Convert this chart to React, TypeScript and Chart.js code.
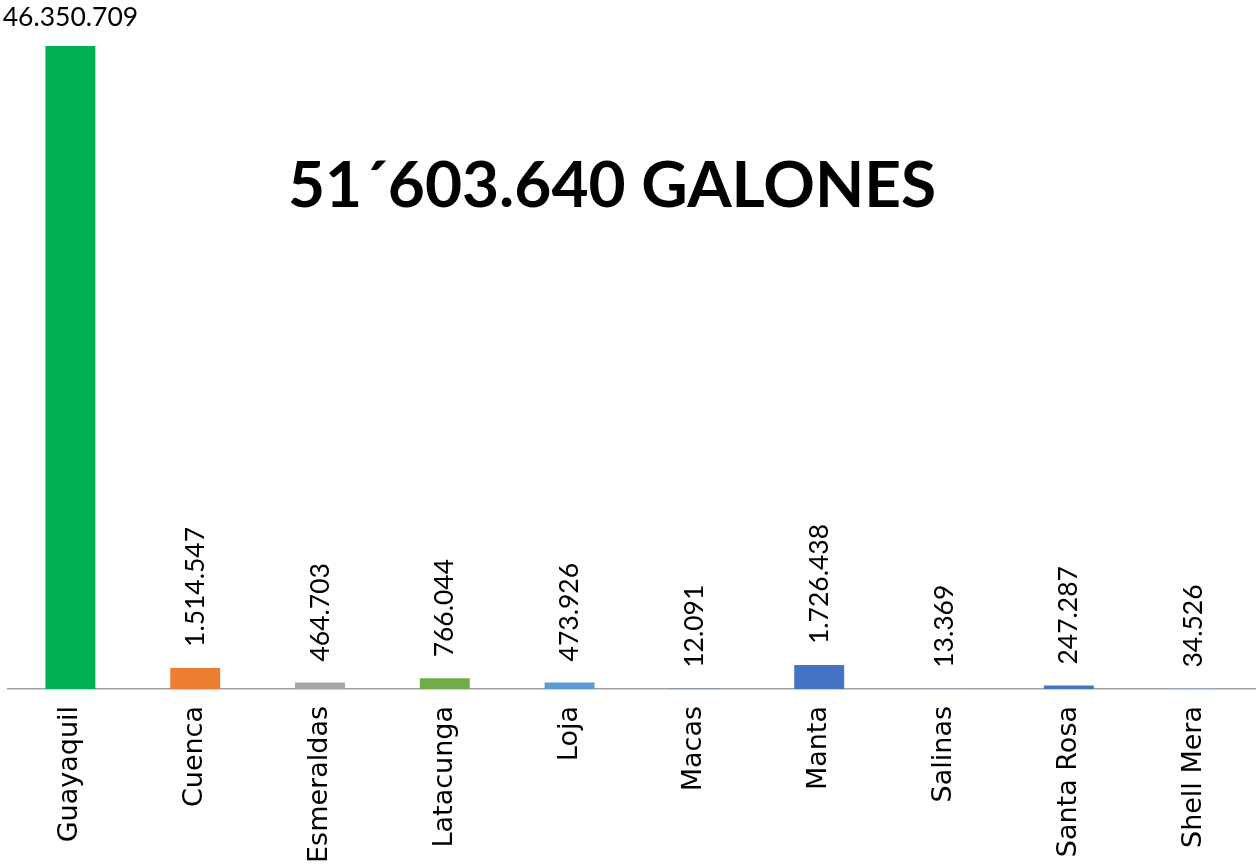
import React, { useEffect, useRef } from "react";
import { Chart, registerables } from "chart.js";

Chart.register(...registerables);

const categories = ["Guayaquil", "Cuenca", "Esmeraldas", "Latacunga", "Loja", "Macas", "Manta", "Salinas", "Santa Rosa", "Shell Mera"];
const values = [46350709, 1514547, 464703, 766044, 473926, 12091, 1726438, 13369, 247287, 34526];
const valueLabels = ["46.350.709", "1.514.547", "464.703", "766.044", "473.926", "12.091", "1.726.438", "13.369", "247.287", "34.526"];
const colors = ["#00B050", "#ED7D31", "#A5A5A5", "#70AD47", "#5B9BD5", "#4472C4", "#4472C4", "#8FAADC", "#4472C4", "#8FAADC"];
const totalText = "51´603.640 GALONES";

const FONT = "Lato, 'Open Sans', sans-serif";
const CAT_FONT = "'DejaVu Sans', sans-serif";

const labelPlugin = {
  id: "valueLabels",
  afterDatasetsDraw(chart: any) {
    const { ctx, chartArea } = chart;
    const meta = chart.getDatasetMeta(0);
    ctx.save();
    ctx.fillStyle = "#000";
    ctx.font = `26.5px ${FONT}`;
    meta.data.forEach((bar: any, i: number) => {
      const text = valueLabels[i];
      const w = ctx.measureText(text).width;
      if (bar.y - 20 - w < 0) {
        ctx.textAlign = "center";
        ctx.textBaseline = "bottom";
        ctx.fillText(text, bar.x, bar.y - 15);
      } else {
        ctx.save();
        ctx.translate(bar.x, bar.y - 21);
        ctx.rotate(-Math.PI / 2);
        ctx.textAlign = "left";
        ctx.textBaseline = "middle";
        ctx.fillText(text, 0, 0);
        ctx.restore();
      }
    });
    ctx.font = `bold 64px ${FONT}`;
    ctx.textAlign = "center";
    ctx.textBaseline = "alphabetic";
    ctx.fillText(totalText, chartArea.left + chartArea.width * 0.484, chartArea.top + 161);
    ctx.restore();
  },
};

export default function App() {
  const ref = useRef<HTMLCanvasElement>(null);
  useEffect(() => {
    if (!ref.current) return;
    const chart = new Chart(ref.current, {
      type: "bar",
      data: {
        labels: categories,
        datasets: [
          {
            data: values,
            backgroundColor: colors,
            barPercentage: 0.4,
            categoryPercentage: 1,
          },
        ],
      },
      options: {
        animation: false,
        responsive: true,
        maintainAspectRatio: false,
        layout: { padding: { top: 46, left: 8, right: 0, bottom: 0 } },
        plugins: { legend: { display: false }, tooltip: { enabled: false } },
        scales: {
          x: {
            grid: { display: false, drawTicks: false },
            border: { display: true, color: "#a0a0a0", width: 1.5 },
            ticks: {
              minRotation: 90,
              maxRotation: 90,
              padding: 17,
              color: "#000",
              font: { family: CAT_FONT, size: 27 },
            },
            afterFit: (scale: any) => {
              scale.height = 175;
            },
          },
          y: {
            display: false,
            min: 0,
            max: 46350709,
          },
        },
      },
      plugins: [labelPlugin],
    });
    return () => chart.destroy();
  }, []);
  return (
    <div style={{ position: "fixed", left: 0, top: 0, width: 1256, height: 864, background: "#fff" }}>
      <canvas ref={ref} />
    </div>
  );
}
